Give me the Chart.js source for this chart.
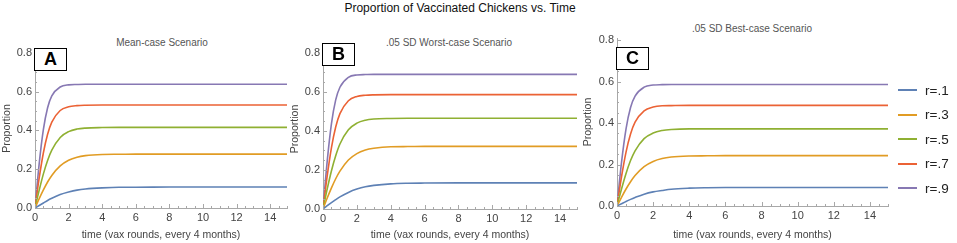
<!DOCTYPE html>
<html>
<head>
<meta charset="utf-8">
<script src="https://cdn.jsdelivr.net/npm/chart.js@4"></script>
<style>
    body { margin: 0; background: #fff; font-family: "Liberation Sans", Arial, sans-serif; }
    #page { position: relative; width: 957px; height: 243px; overflow: hidden; }
    .panel { position: absolute; top: 0; height: 243px; }
    .txt { position: absolute; white-space: nowrap; transform: translate(-50%, -50%); color: #555; font-size: 10px; }
    .tag { position: absolute; border: 1.5px solid #000; box-sizing: border-box; font-weight: bold; font-size: 18px;
           color: #000; display: flex; align-items: center; justify-content: center; background: #fff; }
    #legend { position: absolute; left: 898px; top: 78px; }
    .row { display: flex; align-items: center; height: 24.5px; font-size: 13.5px; color: #222; }
    .row span.ln { display: inline-block; width: 19px; height: 2px; margin-right: 8px; }
</style>
</head>
<body>
<div id="page">
    <div class="txt" style="left:460px; top:8px; font-size:12px; color:#111;">Proportion of Vaccinated Chickens vs. Time</div>
    <div class="txt" style="left:162px; top:42px;">Mean-case Scenario</div>
    <div class="txt" style="left:449px; top:42px;">.05 SD Worst-case Scenario</div>
    <div class="txt" style="left:752px; top:28px;">.05 SD Best-case Scenario</div>

    <div class="panel" style="left:0; width:300px;"><canvas id="chartA"></canvas></div>
    <div class="panel" style="left:288px; width:300px;"><canvas id="chartB"></canvas></div>
    <div class="panel" style="left:581px; width:310px;"><canvas id="chartC"></canvas></div>

    <div class="tag" style="left:34px; top:48px; width:33px; height:23px;">A</div>
    <div class="tag" style="left:322px; top:43px; width:33px; height:23px;">B</div>
    <div class="tag" style="left:616px; top:47px; width:33px; height:23px;">C</div>

    <div id="legend"></div>
</div>

<script>
// time in vaccination rounds
const timeRounds = [0, 0.25, 0.5, 0.75, 1, 1.5, 2, 2.5, 3, 4, 5, 6, 8, 10, 12, 15];

const seriesNames = ["r=.1", "r=.3", "r=.5", "r=.7", "r=.9"];
const seriesColors = ["#5E81B5", "#E19C24", "#8FB032", "#EB6235", "#8778B3"];

// A: mean-case
const meanR1 = [0, .013, .026, .039, .050, .069, .082, .092, .098, .104, .107, .107, .108, .108, .108, .108];
const meanR3 = [0, .048, .093, .134, .168, .217, .246, .262, .270, .276, .277, .278, .278, .278, .278, .278];
const meanR5 = [0, .092, .176, .245, .298, .364, .394, .407, .412, .415, .416, .416, .416, .416, .416, .416];
const meanR7 = [0, .155, .285, .380, .443, .503, .522, .528, .530, .531, .531, .531, .531, .531, .531, .531];
const meanR9 = [0, .229, .405, .517, .578, .624, .635, .637, .638, .638, .638, .638, .638, .638, .638, .638];

// B: .05 SD worst-case
const worstR1 = [0, .017, .033, .048, .062, .085, .102, .114, .121, .129, .132, .133, .134, .134, .134, .134];
const worstR3 = [0, .056, .108, .155, .194, .251, .284, .302, .311, .319, .320, .321, .321, .321, .321, .321];
const worstR5 = [0, .103, .196, .273, .333, .406, .440, .455, .461, .464, .465, .465, .465, .465, .465, .465];
const worstR7 = [0, .171, .315, .420, .489, .555, .577, .583, .585, .586, .586, .586, .586, .586, .586, .586];
const worstR9 = [0, .247, .438, .559, .624, .675, .687, .689, .690, .690, .690, .690, .690, .690, .690, .690];

// C: .05 SD best-case
const bestR1 = [0, .011, .022, .032, .041, .057, .068, .075, .081, .086, .088, .089, .089, .089, .089, .089];
const bestR3 = [0, .042, .082, .117, .147, .190, .215, .229, .236, .241, .242, .243, .243, .243, .243, .243];
const bestR5 = [0, .082, .157, .219, .266, .325, .352, .364, .369, .372, .372, .372, .372, .372, .372, .372];
const bestR7 = [0, .141, .260, .347, .404, .459, .477, .483, .484, .485, .485, .485, .485, .485, .485, .485];
const bestR9 = [0, .210, .372, .475, .530, .573, .583, .585, .586, .586, .586, .586, .586, .586, .586, .586];

const xTickStep = 2;
const yTickStep = 0.2;

const axisColor = "#a8a8a8";
const labelColor = "#444";

/* =========================
   INWARD TICK MARKS (Mathematica style)
========================== */
const tickMarks = {
    id: "tickMarks",
    afterDraw(chart) {
        const { ctx, scales: { x, y } } = chart;
        ctx.save();
        ctx.strokeStyle = axisColor;
        ctx.lineWidth = 1;
        ctx.beginPath();
        for (let i = 0; i <= 30; i++) {
            const v = i * 0.5;
            const px = Math.round(x.getPixelForValue(v)) + 0.5;
            const len = (i % 4 === 0) ? 4 : 2;
            ctx.moveTo(px, y.bottom);
            ctx.lineTo(px, y.bottom - len);
        }
        for (let i = 0; i <= 16; i++) {
            const v = i * 0.05;
            const py = Math.round(y.getPixelForValue(v)) + 0.5;
            const len = (i % 4 === 0) ? 4 : 2;
            ctx.moveTo(x.left, py);
            ctx.lineTo(x.left + len, py);
        }
        ctx.stroke();
        ctx.restore();
    }
};

function makeDatasets(seriesList) {
    return seriesList.map((vals, i) => ({
        label: seriesNames[i],
        data: timeRounds.map((t, k) => ({ x: t, y: vals[k] })),
        borderColor: seriesColors[i],
        borderWidth: 1.6,
        pointRadius: 0,
        fill: false,
        cubicInterpolationMode: "monotone"
    }));
}

function makeChart(id, seriesList, cfg) {
    const ctx = document.getElementById(id).getContext("2d");
    return new Chart(ctx, {
        type: "line",
        data: { datasets: makeDatasets(seriesList) },
        options: {
            responsive: false,
            animation: false,
            layout: { padding: { top: cfg.top, right: cfg.right, left: 0, bottom: 0 } },
            plugins: { legend: { display: false }, tooltip: { enabled: false } },
            scales: {
                x: {
                    type: "linear",
                    min: 0,
                    max: 15,
                    grid: { display: false, drawTicks: false },
                    border: { display: true, color: axisColor, width: 1 },
                    ticks: {
                        stepSize: xTickStep,
                        includeBounds: false,
                        padding: 3,
                        maxRotation: 0,
                        color: labelColor,
                        font: { family: "Liberation Sans", size: 11 }
                    },
                    title: {
                        display: true,
                        text: "time (vax rounds, every 4 months)",
                        color: labelColor,
                        font: { family: "Liberation Sans", size: 10.5 },
                        padding: { top: 0, bottom: 2 }
                    },
                    afterFit(scale) { scale.height = cfg.xHeight; }
                },
                y: {
                    min: 0,
                    max: cfg.yMax,
                    grid: { display: false, drawTicks: false },
                    border: { display: true, color: axisColor, width: 1 },
                    ticks: {
                        stepSize: yTickStep,
                        includeBounds: false,
                        padding: 3,
                        color: labelColor,
                        font: { family: "Liberation Sans", size: 11 },
                        callback: v => v.toFixed(1)
                    },
                    title: {
                        display: true,
                        text: "Proportion",
                        color: labelColor,
                        font: { family: "Liberation Sans", size: 10.5 },
                        padding: { top: 1, bottom: 0 }
                    },
                    afterFit(scale) { scale.width = cfg.yWidth; }
                }
            }
        },
        plugins: [tickMarks]
    });
}

function sizeCanvas(id, w, h) {
    const c = document.getElementById(id);
    c.width = w; c.height = h;
    c.style.width = w + "px"; c.style.height = h + "px";
}

sizeCanvas("chartA", 300, 243);
sizeCanvas("chartB", 300, 243);
sizeCanvas("chartC", 310, 243);

makeChart("chartA", [meanR1, meanR3, meanR5, meanR7, meanR9],
    { top: 49, right: 13, yMax: 0.82, xHeight: 35, yWidth: 35 });
makeChart("chartB", [worstR1, worstR3, worstR5, worstR7, worstR9],
    { top: 49, right: 11, yMax: 0.82, xHeight: 34, yWidth: 35 });
makeChart("chartC", [bestR1, bestR3, bestR5, bestR7, bestR9],
    { top: 38, right: 3, yMax: 0.81, xHeight: 37, yWidth: 36 });

/* =========================
   LEGEND
========================== */
const legendEl = document.getElementById("legend");
seriesNames.forEach((name, i) => {
    const row = document.createElement("div");
    row.className = "row";
    const ln = document.createElement("span");
    ln.className = "ln";
    ln.style.background = seriesColors[i];
    const tx = document.createElement("span");
    tx.textContent = name;
    row.appendChild(ln);
    row.appendChild(tx);
    legendEl.appendChild(row);
});
</script>
</body>
</html>
